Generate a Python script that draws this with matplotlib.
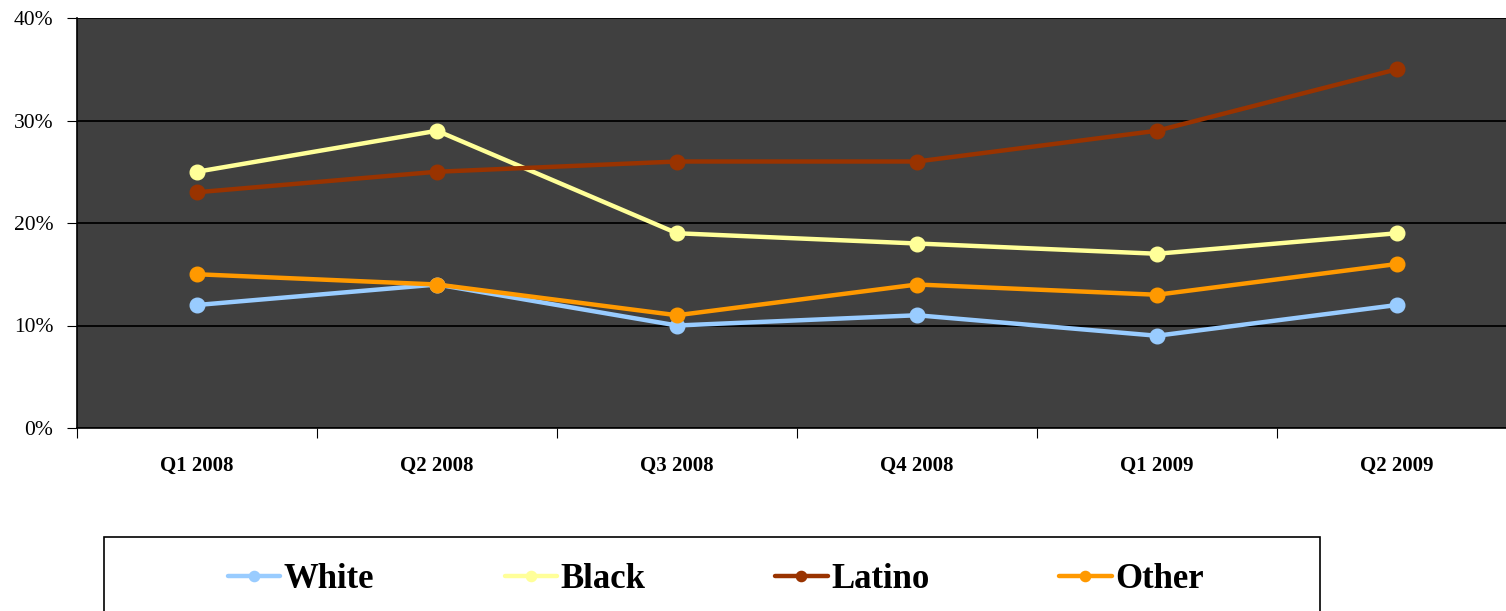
import matplotlib.pyplot as plt
import matplotlib.patches as patches
import numpy as np

quarters = ["Q1 2008", "Q2 2008", "Q3 2008", "Q4 2008", "Q1 2009", "Q2 2009"]
white = [12, 14, 10, 11, 9, 12]
black = [25, 29, 19, 18, 17, 19]
latino = [23, 25, 26, 26, 29, 35]
other = [15, 14, 11, 14, 13, 16]

series = [
    ("White", white, "#99CCFF"),
    ("Black", black, "#FFFF99"),
    ("Latino", latino, "#993300"),
    ("Other", other, "#FF9900"),
]

plt.rcParams["font.family"] = ["Liberation Serif", "DejaVu Serif"]

fig = plt.figure(figsize=(15.06, 6.11), dpi=100)
ax = fig.add_axes([77 / 1506, 183 / 611, 1440 / 1506, 410 / 611])
ax.set_facecolor("#404040")

x = np.arange(len(quarters))
for name, vals, color in series:
    ax.plot(x, vals, color=color, lw=3.2, marker="o", markersize=10.5, label=name,
            solid_capstyle="round", zorder=3)

ax.set_ylim(0, 40)
ax.set_xlim(-0.5, len(quarters) - 0.5)
ax.set_yticks([0, 10, 20, 30, 40])
ax.set_yticklabels([f"{v}%" for v in [0, 10, 20, 30, 40]], fontsize=15.5)
ax.yaxis.grid(True, color="black", lw=1.3)
ax.set_axisbelow(True)

ax.set_xticks(np.arange(-0.5, len(quarters), 1))
ax.set_xticklabels([])
ax.set_xticks(x, minor=True)
ax.set_xticklabels(quarters, minor=True, fontsize=15, fontweight="bold")
ax.tick_params(axis="x", which="minor", length=0, pad=20)
ax.tick_params(axis="x", which="major", length=7, direction="out", color="black")
ax.tick_params(axis="y", length=7, direction="out", pad=10, color="black")

for s in ["top", "right"]:
    ax.spines[s].set_visible(False)
ax.spines["left"].set_color("black")
ax.spines["bottom"].set_color("black")
ax.spines["left"].set_linewidth(1.2)
ax.spines["bottom"].set_linewidth(1.2)

# legend box
rect = patches.Rectangle((104 / 1506, -0.05), 1216 / 1506, 0.05 + 74 / 611,
                         transform=fig.transFigure, facecolor="white",
                         edgecolor="black", lw=1.2, clip_on=False)
fig.patches.append(rect)

handles, labels = ax.get_legend_handles_labels()
fig.legend(handles, labels, loc="center", bbox_to_anchor=(716 / 1506, 31 / 611),
           ncol=4, frameon=False, prop={"size": 25, "weight": "bold"},
           handlelength=1.5, handletextpad=0.1, columnspacing=3.75,
           markerscale=0.7)

fig.savefig("out.png", dpi=100)
